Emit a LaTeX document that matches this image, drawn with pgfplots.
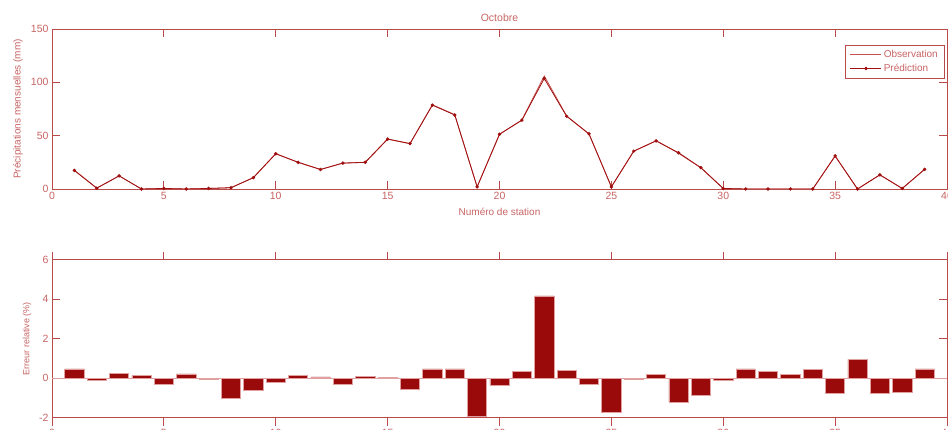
\documentclass[border=0pt]{standalone}
\usepackage{fontspec}
\setmainfont{Liberation Sans}
\usepackage{pgfplots}
\pgfplotsset{compat=1.18}
\definecolor{axc}{HTML}{B84A4A}
\definecolor{txc}{HTML}{C86464}
\definecolor{obsc}{HTML}{C85050}
\definecolor{prc}{HTML}{A01010}
\definecolor{barc}{HTML}{9A0A0A}
\definecolor{bare}{HTML}{E0A0A0}
\begin{document}
\begin{tikzpicture}
\useasboundingbox (0pt,0pt) rectangle (948pt,430pt);
\clip (0pt,0pt) rectangle (948pt,430pt);
\pgfplotsset{
  every axis/.append style={
    scale only axis,
    xmin=0, xmax=40,
    xtick={0,5,...,40},
    tick align=inside,
    major tick length=8pt,
    axis line style={axc, line width=0.6pt},
    every tick/.style={axc, line width=0.8pt},
    tick label style={txc, font=\fontsize{10.5}{12}\selectfont},
    /pgf/number format/assume math mode=true,
    label style={txc},
  }
}
% ---------- top panel ----------
\begin{axis}[
  at={(52pt,241pt)}, anchor=south west,
  width=895pt, height=160pt,
  ymin=0, ymax=150, ytick={0,50,100,150},
  title={Octobre},
  title style={txc, font=\fontsize{10.5}{12}\selectfont, yshift=-2pt},
  xlabel={Numéro de station},
  xlabel style={at={(axis description cs:0.5,0)}, anchor=center, yshift=-23pt, font=\fontsize{10}{12}\selectfont},
  ylabel={Précipitations mensuelles (mm)},
  ylabel style={at={(axis description cs:0,0.5)}, anchor=center, yshift=34pt, font=\fontsize{10}{12}\selectfont},
  legend style={at={(axis description cs:0.9978,0.9)}, anchor=north east,
    draw=axc, line width=0.6pt, font=\fontsize{10}{12}\selectfont, text=txc,
    cells={anchor=west}, inner xsep=5pt, inner ysep=3pt, row sep=1pt},
  legend image code/.code={\draw[mark repeat=2,mark phase=2,#1] plot coordinates {(0pt,0pt) (15.5pt,0pt) (31pt,0pt)};},
]
\addplot[obsc, line width=0.8pt] coordinates {
(1,17.5) (2,0.8) (3,12.3) (4,0) (5,0.5) (6,0) (7,0.5) (8,1.2) (9,10.7) (10,33)
(11,25) (12,18.3) (13,24.2) (14,25) (15,46.8) (16,42.4) (17,79) (18,69.7) (19,2) (20,51.2)
(21,64.7) (22,106) (23,68.5) (24,51.5) (25,2) (26,35.5) (27,45.2) (28,33.6) (29,19.8) (30,0.5)
(31,0) (32,0) (33,0) (34,0) (35,30.8) (36,0) (37,13.2) (38,0.5) (39,18.5)};
\addlegendentry{Observation}
\addplot[prc, line width=0.8pt, mark=*, mark size=1.3pt] coordinates {
(1,17.4) (2,0.8) (3,12.3) (4,0) (5,0.5) (6,0) (7,0.5) (8,1.2) (9,10.6) (10,33.1)
(11,25) (12,18.3) (13,24.3) (14,25) (15,46.8) (16,42.6) (17,78.6) (18,69.4) (19,2) (20,51.4)
(21,64.5) (22,103.6) (23,68.2) (24,51.7) (25,2) (26,35.5) (27,45.1) (28,34.0) (29,20.0) (30,0.5)
(31,0) (32,0) (33,0) (34,0) (35,31.0) (36,0) (37,13.3) (38,0.5) (39,18.4)};
\addlegendentry{Prédiction}
\end{axis}
% ---------- bottom panel ----------
\begin{axis}[
  at={(52pt,12.3pt)}, anchor=south west,
  width=895pt, height=158pt,
  ymin=-2, ymax=6, ytick={-2,0,2,4,6},
  ylabel={Erreur relative (\%)},
  ylabel style={at={(axis description cs:0,0.5)}, anchor=center, yshift=25pt, font=\fontsize{9}{11}\selectfont},
  ybar, bar width=0.86,
]
\addplot[barc, fill=barc, draw=bare, line width=0.6pt] coordinates {
(1,0.47) (2,-0.1) (3,0.25) (4,0.14) (5,-0.29) (6,0.22) (7,-0.07) (8,-1.0) (9,-0.61) (10,-0.2)
(11,0.14) (12,0.07) (13,-0.32) (14,0.08) (15,0.05) (16,-0.58) (17,0.47) (18,0.47) (19,-1.93) (20,-0.37)
(21,0.34) (22,4.17) (23,0.39) (24,-0.32) (25,-1.75) (26,-0.07) (27,0.19) (28,-1.2) (29,-0.86) (30,-0.12)
(31,0.47) (32,0.34) (33,0.19) (34,0.44) (35,-0.75) (36,0.95) (37,-0.76) (38,-0.71) (39,0.47)};
\addplot[sharp plot, bare, line width=0.6pt, forget plot] coordinates {(0,0) (40,0)};
\end{axis}
\end{tikzpicture}
\end{document}
